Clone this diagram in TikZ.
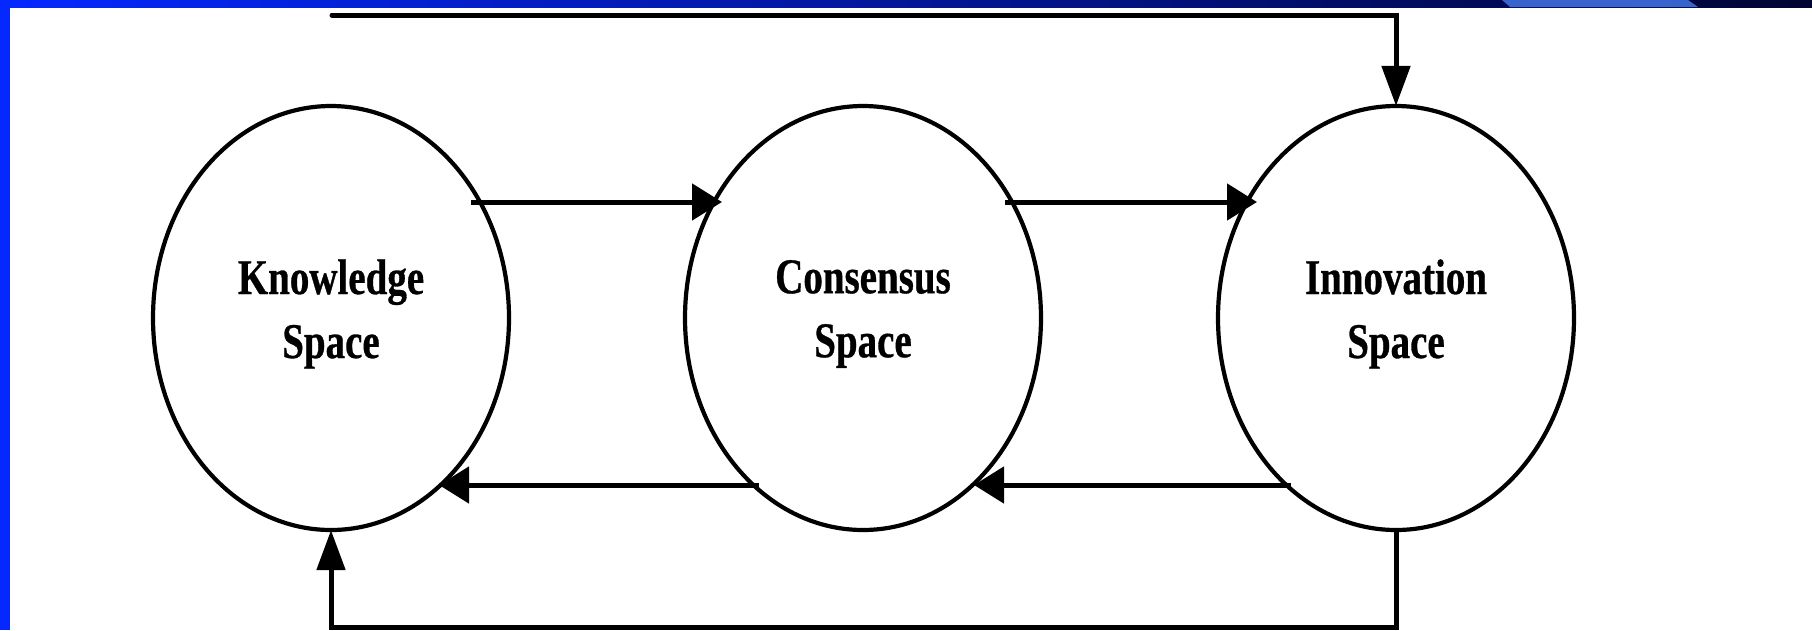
\documentclass[tikz,border=0pt]{standalone}
\usepackage{fontspec}
\newfontfamily\lblfont{Liberation Serif Bold}[FakeStretch=0.78, FakeBold=0.6]
\usetikzlibrary{arrows.meta,shapes.geometric,calc}
\definecolor{barblue}{RGB}{5,40,255}
\definecolor{barmid}{RGB}{0,25,165}
\definecolor{barnavy}{RGB}{0,12,90}
\definecolor{bardark}{RGB}{0,5,50}
\definecolor{barlight}{RGB}{55,100,205}
\tikzset{
  space/.style={ellipse, draw=black, line width=4.2pt, minimum width=356pt, minimum height=424pt, inner sep=0pt},
  lbl/.style={font=\lblfont\fontsize{50}{64}\selectfont, align=center, inner sep=0pt},
  conn/.style={draw=black, line width=5pt},
  harrow/.style={conn, -{Triangle[length=30pt,width=36pt]}},
  varrow/.style={conn, -{Triangle[length=40pt,width=28pt]}},
}
\begin{document}
\begin{tikzpicture}[x=1pt,y=-1pt]
\useasboundingbox (0,0) rectangle (1812,630);
% header bars
\shade[left color=barblue, middle color=barmid, right color=bardark] (0,0) rectangle (1812,7);
\fill[barlight] (1502,0) -- (1688,0) -- (1698,7) -- (1510,7) -- cycle;
\fill[barblue] (0,0) rectangle (10,630);
% spaces
\node[space] (K) at (331,318) {};
\node[space] (C) at (863,318) {};
\node[space] (I) at (1396,318) {};
\node[lbl] (Kl) at ([yshift=4pt]K.center) {Knowledge\\Space};
\node[lbl] (Cl) at ([yshift=4pt]C.center) {Consensus\\Space};
\node[lbl] (Il) at ([yshift=4pt]I.center) {Innovation\\Space};
% forward arrows
\draw[harrow] ([xshift=140pt,yshift=116pt]K.center) -- ([xshift=-141pt,yshift=116pt]C.center);
\draw[harrow] ([xshift=142pt,yshift=116pt]C.center) -- ([xshift=-139pt,yshift=116pt]I.center);
% backward arrows
\draw[harrow] ([xshift=-104pt,yshift=-167pt]C.center) -- ([xshift=108pt,yshift=-167pt]K.center);
\draw[harrow] ([xshift=-105pt,yshift=-167pt]I.center) -- ([xshift=111pt,yshift=-167pt]C.center);
% top feed
\coordinate (topstart) at (332,15);
\draw[varrow, line cap=round] (topstart) -| ([yshift=-2pt]I.north);
% bottom feed
\draw[varrow] (I.south) -- ++(0,95) -| ([yshift=2pt]K.south);
\end{tikzpicture}
\end{document}
